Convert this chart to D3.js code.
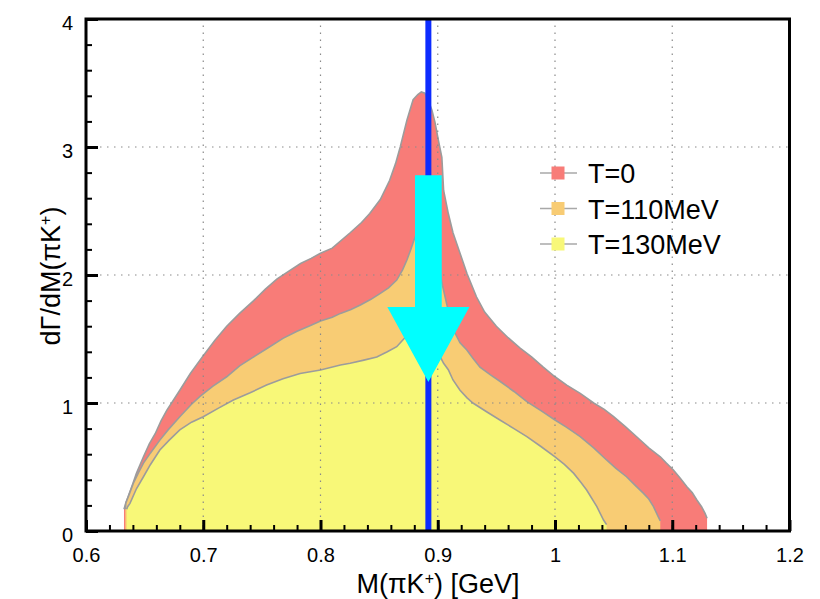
<!DOCTYPE html>
<html>
<head>
<meta charset="utf-8">
<script src="https://cdn.jsdelivr.net/npm/d3@7"></script>
<style>
  html, body { margin: 0; padding: 0; background: #fff; }
  svg { display: block; font-family: "Liberation Sans", Arial, Helvetica, sans-serif; }
</style>
</head>
<body>
<svg id="chart" width="820" height="599"></svg>
<script>
// ---------------- data ----------------
const massT0 = [0.6324, 0.634, 0.636, 0.640, 0.643, 0.649, 0.654, 0.659, 0.664, 0.669, 0.673, 0.680, 0.689, 0.700, 0.710, 0.720, 0.731, 0.743, 0.753, 0.763, 0.773, 0.783, 0.792, 0.800, 0.810, 0.8253, 0.835, 0.842, 0.851, 0.859, 0.864, 0.868, 0.8737, 0.876, 0.879, 0.883, 0.886, 0.889, 0.892, 0.895, 0.8977, 0.9006, 0.9035, 0.905, 0.909, 0.913, 0.919, 0.925, 0.933, 0.940, 0.950, 0.960, 0.970, 0.980, 0.990, 1.000, 1.010, 1.0215, 1.033, 1.042, 1.050, 1.060, 1.0727, 1.080, 1.0898, 1.095, 1.101, 1.107, 1.1125, 1.117, 1.121, 1.125, 1.128, 1.1297];
const valT0  = [0.17, 0.22, 0.27, 0.37, 0.45, 0.58, 0.68, 0.76, 0.86, 0.945, 1.00, 1.10, 1.23, 1.37, 1.49, 1.60, 1.70, 1.80, 1.89, 1.97, 2.03, 2.09, 2.13, 2.17, 2.21, 2.33, 2.41, 2.48, 2.59, 2.74, 2.87, 3.00, 3.21, 3.28, 3.37, 3.41, 3.43, 3.42, 3.36, 3.29, 3.19, 3.05, 2.92, 2.66, 2.48, 2.33, 2.17, 2.01, 1.83, 1.71, 1.60, 1.51, 1.43, 1.36, 1.28, 1.205, 1.14, 1.075, 1.00, 0.95, 0.893, 0.815, 0.711, 0.65, 0.58, 0.53, 0.477, 0.41, 0.346, 0.30, 0.242, 0.19, 0.138, 0.10];

const massT110 = [0.6335, 0.634, 0.637, 0.6404, 0.645, 0.649, 0.655, 0.663, 0.670, 0.680, 0.690, 0.697, 0.708, 0.720, 0.731, 0.743, 0.755, 0.768, 0.780, 0.790, 0.800, 0.810, 0.817, 0.826, 0.834, 0.843, 0.851, 0.858, 0.865, 0.870, 0.8737, 0.877, 0.880, 0.885, 0.890, 0.895, 0.900, 0.904, 0.908, 0.9134, 0.919, 0.9248, 0.930, 0.936, 0.945, 0.953, 0.965, 0.976, 0.988, 1.000, 1.010, 1.0215, 1.033, 1.044, 1.052, 1.061, 1.068, 1.0755, 1.080, 1.084, 1.088, 1.0898];
const valT110  = [0.17, 0.22, 0.29, 0.373, 0.46, 0.53, 0.61, 0.71, 0.79, 0.893, 0.99, 1.05, 1.13, 1.205, 1.29, 1.36, 1.43, 1.505, 1.56, 1.60, 1.64, 1.67, 1.70, 1.73, 1.766, 1.81, 1.857, 1.90, 1.96, 2.04, 2.117, 2.20, 2.28, 2.40, 2.45, 2.35, 2.10, 1.92, 1.76, 1.57, 1.47, 1.414, 1.35, 1.28, 1.22, 1.17, 1.09, 1.01, 0.94, 0.867, 0.81, 0.737, 0.65, 0.555, 0.49, 0.424, 0.36, 0.294, 0.25, 0.19, 0.112, 0.08];

const massT130 = [0.6347, 0.6355, 0.6375, 0.643, 0.649, 0.655, 0.663, 0.671, 0.680, 0.690, 0.700, 0.713, 0.7257, 0.740, 0.754, 0.768, 0.7826, 0.800, 0.817, 0.8253, 0.837, 0.848, 0.857, 0.865, 0.870, 0.876, 0.884, 0.890, 0.896, 0.9027, 0.905, 0.909, 0.913, 0.919, 0.925, 0.930, 0.942, 0.953, 0.965, 0.976, 0.988, 1.000, 1.008, 1.016, 1.022, 1.027, 1.0357, 1.0414, 1.044];
const valT130  = [0.17, 0.19, 0.216, 0.33, 0.424, 0.52, 0.633, 0.71, 0.79, 0.85, 0.893, 0.96, 1.023, 1.08, 1.14, 1.19, 1.23, 1.258, 1.297, 1.31, 1.335, 1.36, 1.40, 1.44, 1.49, 1.55, 1.62, 1.65, 1.55, 1.35, 1.31, 1.26, 1.18, 1.10, 1.04, 1.00, 0.93, 0.867, 0.80, 0.737, 0.66, 0.58, 0.52, 0.45, 0.38, 0.32, 0.19, 0.086, 0.05];

const seriesNames = ["T=0", "T=110MeV", "T=130MeV"];
const xTickLabels = ["0.6", "0.7", "0.8", "0.9", "1", "1.1", "1.2"];
const yTickLabels = ["0", "1", "2", "3", "4"];
const kStarMass = 0.892;                      // vertical reference line position
const arrowLevels = [2.78, 1.75, 1.164];      // shaft top, head base, tip (y units)
const arrowHalfWidths = [0.0114, 0.035];      // shaft, head (x units)

// ---------------- layout / style ----------------
const svg = d3.select("#chart");
const x = d3.scaleLinear().domain([0.6, 1.2]).range([86, 789.5]);
const y = d3.scaleLinear().domain([0, 4]).range([531, 19]);
const colors = ["#f87c78", "#f8cc74", "#f8f878"];
const edge = "#9c9c9c";

const seriesData = [
  d3.zip(massT0, valT0),
  d3.zip(massT110, valT110),
  d3.zip(massT130, valT130)
];

const area = d3.area().x(d => x(d[0])).y0(y(0)).y1(d => y(d[1])).curve(d3.curveLinear);
const line = d3.line().x(d => x(d[0])).y(d => y(d[1])).curve(d3.curveLinear);

const plot = svg.append("g");
seriesData.forEach((s, i) => {
  plot.append("path").datum(s).attr("d", area).attr("fill", colors[i]);
  plot.append("path").datum(s).attr("d", line).attr("fill", "none")
      .attr("stroke", edge).attr("stroke-width", 1.6);
});

// grid (dotted, above fills)
const grid = svg.append("g").attr("stroke", "#8a8a8a").attr("stroke-width", 1.2)
  .attr("stroke-dasharray", "1.5,5.5");
[0.7, 0.8, 0.9, 1.0, 1.1].forEach(v => {
  grid.append("line").attr("x1", x(v)).attr("x2", x(v)).attr("y1", y(0)).attr("y2", y(4));
});
[1, 2, 3].forEach(v => {
  grid.append("line").attr("x1", x(0.6)).attr("x2", x(1.2)).attr("y1", y(v)).attr("y2", y(v));
});

// blue vertical line
svg.append("line")
  .attr("x1", x(kStarMass)).attr("x2", x(kStarMass))
  .attr("y1", y(0)).attr("y2", y(4))
  .attr("stroke", "#0d2cff").attr("stroke-width", 6);

// cyan arrow
const [sTop, hBase, tip] = arrowLevels;
const [sw, hw] = arrowHalfWidths;
const arrowPts = [
  [kStarMass - sw, sTop], [kStarMass + sw, sTop], [kStarMass + sw, hBase],
  [kStarMass + hw, hBase], [kStarMass, tip], [kStarMass - hw, hBase],
  [kStarMass - sw, hBase]
];
svg.append("path")
  .attr("d", d3.line().x(d => x(d[0])).y(d => y(d[1]))(arrowPts) + "Z")
  .attr("fill", "#00ffff");

// axes
const xMajor = d3.axisBottom(x).tickValues(d3.range(0, 7).map(i => 0.6 + i * 0.1))
  .tickFormat((d, i) => xTickLabels[i]).tickSizeInner(-11).tickSizeOuter(0).tickPadding(17);
const xMinor = d3.axisBottom(x).tickValues(d3.range(0, 31).map(i => 0.6 + i * 0.02))
  .tickFormat("").tickSizeInner(-6).tickSizeOuter(0);
const yMajor = d3.axisLeft(y).tickValues([0, 1, 2, 3, 4])
  .tickFormat((d, i) => yTickLabels[i]).tickSizeInner(-12).tickSizeOuter(0).tickPadding(13);
const yMinor = d3.axisLeft(y).tickValues(d3.range(0, 21).map(i => i * 0.2))
  .tickFormat("").tickSizeInner(-6).tickSizeOuter(0);

function styleAxis(g, w) {
  g.select(".domain").remove();
  g.selectAll(".tick line").attr("stroke", "#000").attr("stroke-width", w);
  g.selectAll(".tick text").attr("fill", "#000").attr("font-size", 20)
    .attr("font-family", "'Liberation Sans', Arial, sans-serif");
}
svg.append("g").attr("transform", `translate(0,${y(0)})`).call(xMinor).call(g => styleAxis(g, 2));
svg.append("g").attr("transform", `translate(0,${y(0)})`).call(xMajor).call(g => styleAxis(g, 3));
svg.append("g").attr("transform", `translate(${x(0.6)},0)`).call(yMinor).call(g => styleAxis(g, 2));
const yg = svg.append("g").attr("transform", `translate(${x(0.6)},0)`).call(yMajor).call(g => styleAxis(g, 3));
yg.selectAll(".tick text").attr("dy", "0.5em");

// frame
svg.append("rect")
  .attr("x", x(0.6)).attr("y", y(4))
  .attr("width", x(1.2) - x(0.6)).attr("height", y(0) - y(4))
  .attr("fill", "none").attr("stroke", "#000").attr("stroke-width", 3);

// axis titles
const xt = svg.append("text").attr("x", 438).attr("y", 593)
  .attr("text-anchor", "middle").attr("font-size", 27).attr("fill", "#000");
xt.append("tspan").text("M(πK");
xt.append("tspan").attr("font-size", 16).attr("dy", -9).text("+");
xt.append("tspan").attr("dy", 9).text(") [GeV]");

const yt = svg.append("text").attr("transform", "translate(60,276) rotate(-90)")
  .attr("text-anchor", "middle").attr("font-size", 27).attr("fill", "#000");
yt.append("tspan").text("dΓ/dM(πK");
yt.append("tspan").attr("font-size", 16).attr("dy", -9).text("+");
yt.append("tspan").attr("dy", 9).text(")");

// legend
const legend = svg.append("g");
seriesNames.forEach((name, i) => {
  const cy = 173 + i * 35.5;
  legend.append("line").attr("x1", 540).attr("x2", 577).attr("y1", cy).attr("y2", cy)
    .attr("stroke", "#a8a8a8").attr("stroke-width", 1.5);
  legend.append("rect").attr("x", 551.5).attr("y", cy - 6.5).attr("width", 13).attr("height", 13)
    .attr("fill", colors[i]);
  legend.append("text").attr("x", 588).attr("y", cy + 10).attr("font-size", 27)
    .attr("fill", "#000").text(name);
});
</script>
</body>
</html>
